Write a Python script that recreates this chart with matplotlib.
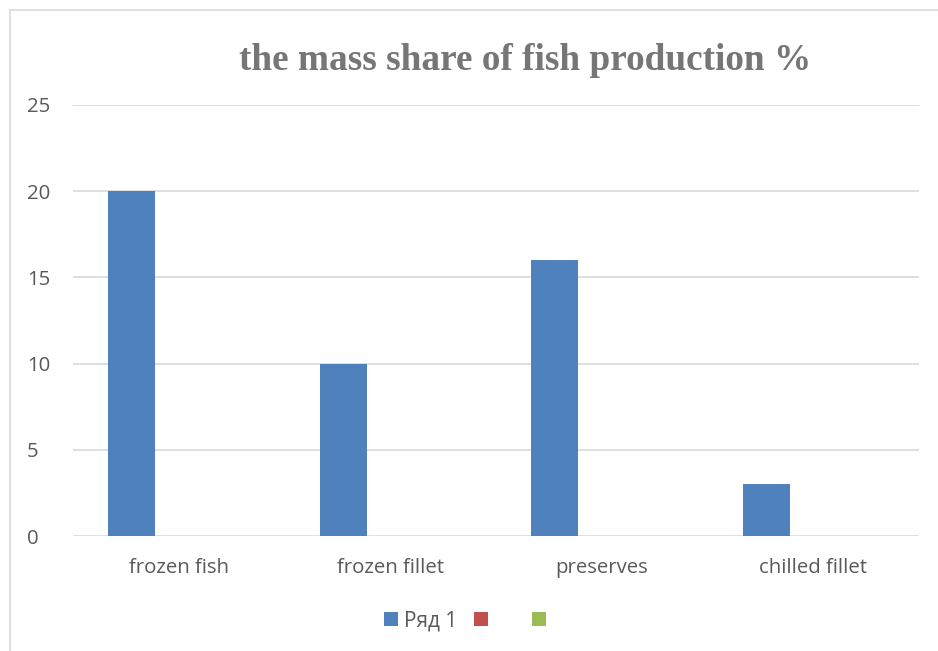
import matplotlib
matplotlib.use("Agg")
import matplotlib.pyplot as plt
import numpy as np

categories = ["frozen fish", "frozen fillet", "preserves", "chilled fillet"]
series1 = [20, 10, 16, 3]
series2 = [np.nan, np.nan, np.nan, np.nan]
series3 = [np.nan, np.nan, np.nan, np.nan]
series_names = ["Ряд 1", "    ", " "]
yticks = [0, 5, 10, 15, 20, 25]
title = "the mass share of fish production %"

colors = ["#4f81bd", "#c0504d", "#9bbb59"]
text_color = "#595959"
grid_color = "#d9d9d9"

fig = plt.figure(figsize=(9.38, 6.51), dpi=100)
W, H = 938, 651
ax = fig.add_axes([73 / W, 1 - 536 / H, (919 - 73) / W, (536 - 105) / H])

x = np.arange(len(categories))
bw = 1 / 4.5
for i, (vals, name) in enumerate(zip([series1, series2, series3], series_names)):
    ax.bar(x + (i - 1) * bw, vals, width=bw, color=colors[i], label=name,
           zorder=3, edgecolor="none")

ax.set_xlim(-0.5, len(categories) - 0.5)
ax.set_ylim(0, 25)
ax.set_yticks(yticks)
ax.set_xticks(x)
ax.set_xticklabels(categories)
ax.yaxis.grid(True, color=grid_color, linewidth=1.2, zorder=0)
for s in ax.spines.values():
    s.set_visible(False)
ax.tick_params(axis="both", length=0, labelsize=14.7, colors=text_color)
ax.tick_params(axis="x", pad=16)
for lab in ax.get_xticklabels() + ax.get_yticklabels():
    lab.set_fontfamily("Open Sans")
for lab in ax.get_yticklabels():
    lab.set_horizontalalignment("left")
ax.tick_params(axis="y", pad=33)

fig.text(525 / W, 1 - 61 / H, title, ha="center", va="center",
         fontfamily="Liberation Serif", fontweight="bold", fontsize=26.8,
         color="#767676")

leg = fig.legend(loc="center", bbox_to_anchor=(471 / W, 1 - 621 / H),
                 ncol=3, frameon=False, handlelength=0.67, handleheight=0.67,
                 handletextpad=0.3, columnspacing=0.8,
                 prop={"family": "Open Sans", "size": 15})
for t in leg.get_texts():
    t.set_color(text_color)

# frame border lines (top and left)
fig.add_artist(plt.Line2D([10 / W, 1], [1 - 10 / H, 1 - 10 / H], color="#d9d9d9",
                          linewidth=1.2, transform=fig.transFigure))
fig.add_artist(plt.Line2D([10 / W, 10 / W], [0, 1 - 10 / H], color="#d9d9d9",
                          linewidth=1.2, transform=fig.transFigure))

fig.savefig("out.png", dpi=100, facecolor="white")
